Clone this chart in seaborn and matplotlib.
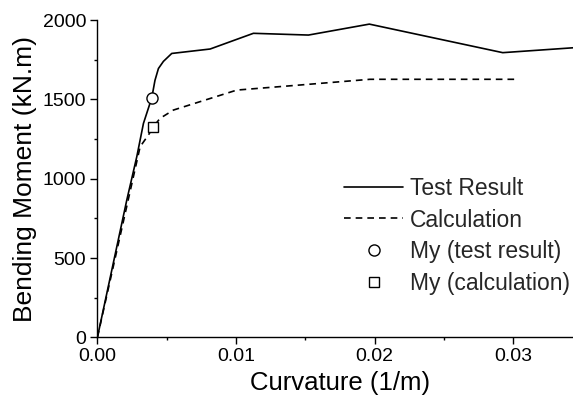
import matplotlib
matplotlib.use("Agg")
import matplotlib.pyplot as plt
from matplotlib.ticker import MultipleLocator, FormatStrFormatter
import pandas as pd
import seaborn as sns

# Moment-curvature response: test measurement
test_curvature = [0.0, 0.00212, 0.00284, 0.00332, 0.00392, 0.00415, 0.00440, 0.00476, 0.00536,
                  0.00813, 0.01005, 0.01125, 0.01522, 0.01961, 0.02923, 0.0350]
test_moment = [0, 866, 1139, 1349, 1510, 1620, 1695, 1740, 1790,
               1818, 1879, 1917, 1906, 1975, 1795, 1830]

# Moment-curvature response: calculation
calc_curvature = [0.0, 0.00308, 0.00368, 0.00404, 0.00452, 0.00548, 0.01005, 0.01461, 0.01966, 0.0301]
calc_moment = [0, 1202, 1276, 1328, 1381, 1433, 1559, 1591, 1627, 1627]

# Yield moments
my_test = (0.00392, 1510)
my_calc = (0.00404, 1328)

test_df = pd.DataFrame({"Curvature": test_curvature, "Moment": test_moment})
calc_df = pd.DataFrame({"Curvature": calc_curvature, "Moment": calc_moment})

sns.set_theme(style="ticks")
plt.rcParams["font.family"] = ["Liberation Sans", "DejaVu Sans"]

fig = plt.figure(figsize=(5.73, 4.03), dpi=100)
# the plotting area runs slightly past the right edge of the canvas
ax = fig.add_axes([0.170, 0.163, 0.847, 0.787])

sns.lineplot(data=test_df, x="Curvature", y="Moment", ax=ax, color="black",
             linewidth=1.2, label="Test Result", sort=False, estimator=None)
sns.lineplot(data=calc_df, x="Curvature", y="Moment", ax=ax, color="black",
             linewidth=1.2, linestyle=(0, (4, 3)), label="Calculation", sort=False, estimator=None)
ax.plot([my_test[0]], [my_test[1]], linestyle="none", marker="o", markersize=8,
        markerfacecolor="white", markeredgecolor="black", markeredgewidth=1.0,
        label="My (test result)", zorder=5)
ax.plot([my_calc[0]], [my_calc[1]], linestyle="none", marker="s", markersize=7.5,
        markerfacecolor="white", markeredgecolor="black", markeredgewidth=1.0,
        label="My (calculation)", zorder=5)

ax.set_xlim(0, 0.035)
ax.set_ylim(0, 2000)
ax.xaxis.set_major_locator(MultipleLocator(0.01))
ax.xaxis.set_minor_locator(MultipleLocator(0.005))
ax.xaxis.set_major_formatter(FormatStrFormatter("%.2f"))
ax.yaxis.set_major_locator(MultipleLocator(500))
ax.yaxis.set_minor_locator(MultipleLocator(250))
ax.tick_params(which="major", direction="out", length=5, width=1, labelsize=14,
               color="black", labelcolor="black", pad=3)
ax.tick_params(which="minor", direction="out", length=2.5, width=1, color="black")

for side in ["top", "right"]:
    ax.spines[side].set_visible(False)
for side in ["left", "bottom"]:
    ax.spines[side].set_color("black")
    ax.spines[side].set_linewidth(1.0)

ax.set_xlabel("Curvature (1/m)", fontsize=18.5, color="black", labelpad=4)
ax.set_ylabel("Bending Moment (kN.m)", fontsize=19, color="black", labelpad=4)

leg = ax.legend(loc="upper left", bbox_to_anchor=(0.489, 0.535), frameon=False,
                fontsize=16.5, handlelength=2.6, handletextpad=0.3, labelspacing=0.38,
                borderaxespad=0)

fig.savefig("out.png", dpi=100)
